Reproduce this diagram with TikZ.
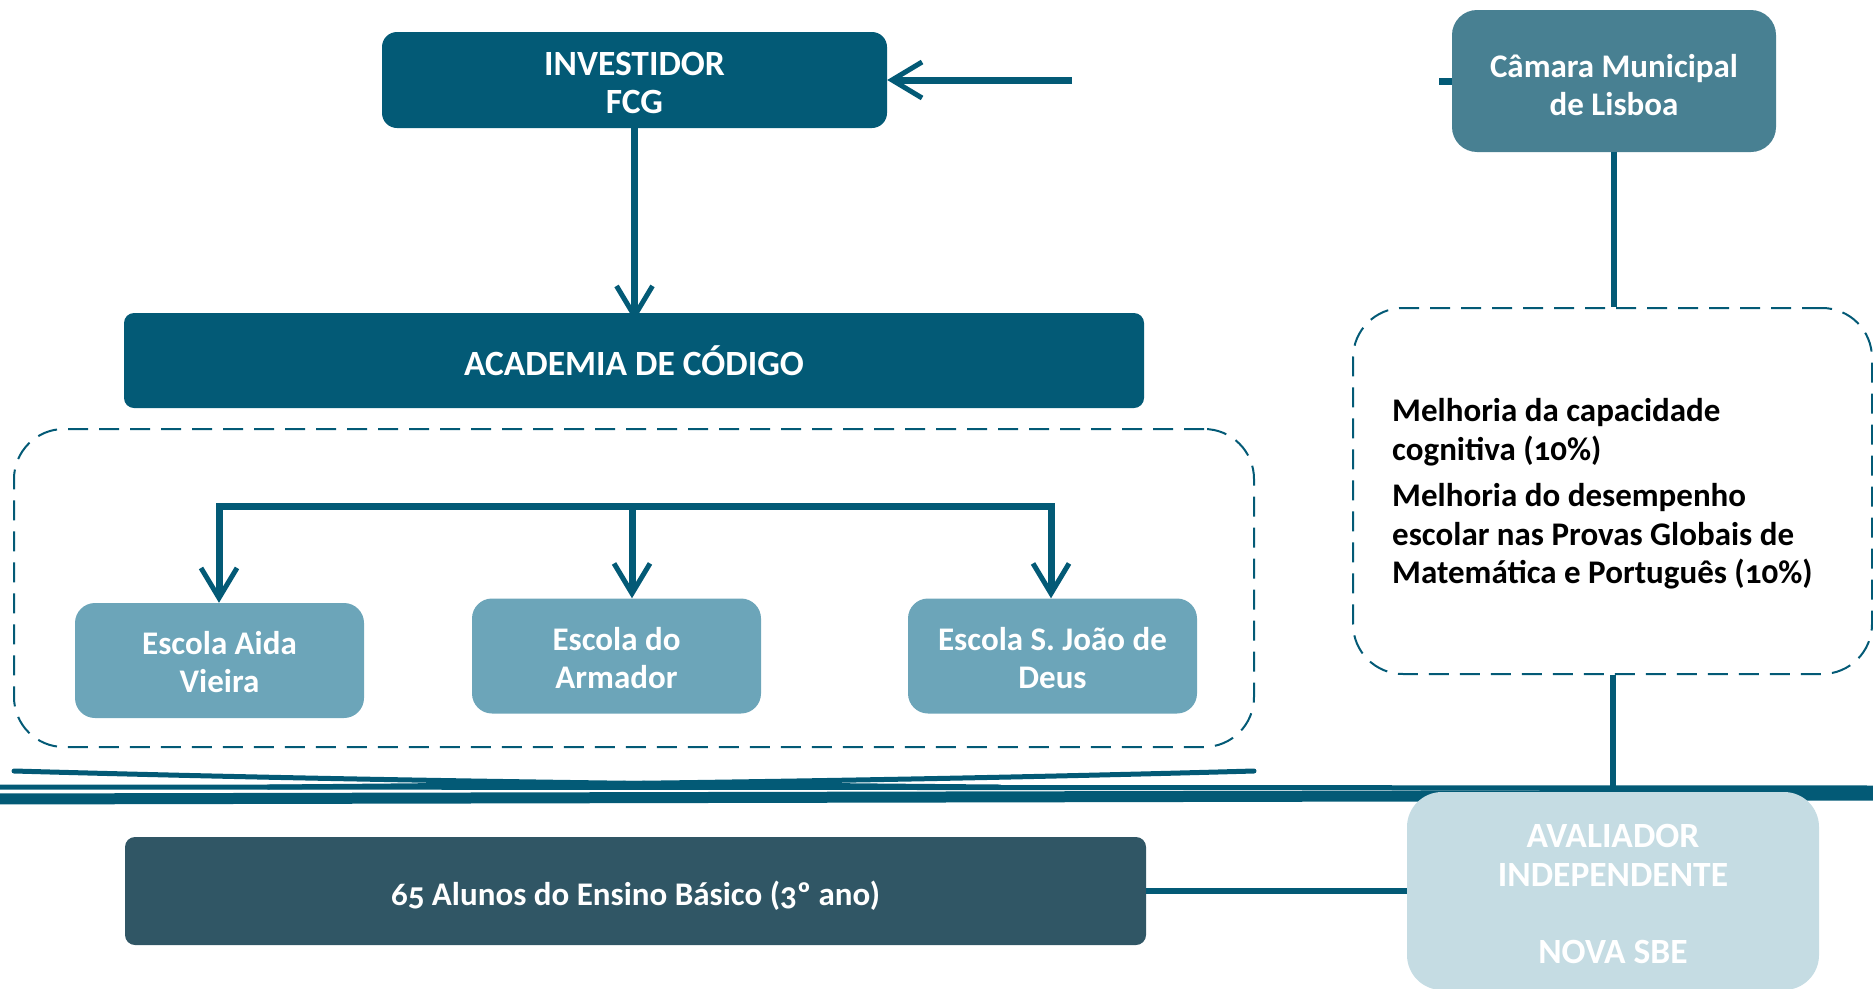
\documentclass[tikz,border=0pt]{standalone}
\usepackage{fontspec}
\setmainfont{Carlito}[Numbers=OldStyle]
\usetikzlibrary{arrows.meta}
\definecolor{dteal}{RGB}{3,90,118}
\definecolor{camc}{RGB}{72,128,146}
\definecolor{escc}{RGB}{108,165,185}
\definecolor{avalc}{RGB}{197,220,227}
\definecolor{alunc}{RGB}{48,86,101}
\newcommand{\downstrut}[1]{\rule{0pt}{#1}}
\begin{document}
\begin{tikzpicture}[x=1pt,y=-1pt,
  boxbase/.style={inner sep=0pt, align=center, text=white,
    font=\fontsize{33}{38}\selectfont\bfseries},
  capsfont/.style={font=\fontsize{35.5}{38.5}\selectfont\bfseries},
  darkbox/.style={boxbase, fill=dteal},
  escbox/.style={boxbase, fill=escc, rounded corners=20pt, minimum width=289pt, minimum height=115pt},
  dbox/.style={draw=dteal, line width=2pt, dash pattern=on 20pt off 11pt, rounded corners=50pt, inner sep=0pt},
  conn/.style={draw=dteal, line width=7pt},
  arr/.style={conn, -{Straight Barb[length=30pt,width=36pt,line width=5pt]}},
  stroke/.style={draw=dteal, line cap=round}]
\useasboundingbox (0,0) rectangle (1873,988);

% brush strokes
\draw[stroke, line width=11pt] (-10,799) -- (1890,795);
\draw[stroke, line width=5pt] (-10,787) -- (1890,788);
\draw[stroke, line width=5pt] (14,771) .. controls (300,779) and (600,784) .. (1000,787);
\draw[stroke, line width=5pt] (1254,771) .. controls (968,779) and (668,784) .. (268,787);

% nodes
\node[darkbox, capsfont, rounded corners=15pt, minimum width=505pt, minimum height=96pt] (inv) at (634.5,80) {\downstrut{29pt}INVESTIDOR\\FCG};
\node[darkbox, capsfont, rounded corners=10pt, minimum width=1020pt, minimum height=95pt] (acad) at (634,360.5) {ACADEMIA DE CÓDIGO};
\node[boxbase, fill=camc, rounded corners=25pt, minimum width=324pt, minimum height=142pt] (cam) at (1614,81) {\downstrut{31pt}Câmara Municipal\\de Lisboa};

\node[dbox, minimum width=1240pt, minimum height=318pt] (grp) at (634,588) {};
\node[dbox, minimum width=519pt, minimum height=366pt] (goal) at (1612.5,491) {};

\node[escbox] (e1) at (219.5,660.5) {\downstrut{27pt}Escola Aida\\Vieira};
\node[escbox] (e2) at (616.5,656) {\downstrut{27pt}Escola do\\Armador};
\node[escbox] (e3) at (1052.5,656) {\downstrut{27pt}Escola S. João de\\Deus};

\node[boxbase, fill=alunc, rounded corners=10pt, minimum width=1021pt, minimum height=108pt] (alun) at (635.5,891) {\downstrut{34pt}65 Alunos do Ensino Básico (3º ano)};
\node[boxbase, capsfont, fill=avalc, rounded corners=35pt, minimum width=412pt, minimum height=198pt] (aval) at (1613,891) {\downstrut{29pt}AVALIADOR\\INDEPENDENTE\\[38.5pt]NOVA SBE};

\node[anchor=west, align=left, inner sep=0pt, text=black,
  font=\fontsize{33}{38.5}\selectfont\bfseries] (gtxt) at (1392,494)
  {Melhoria da capacidade\\cognitiva (10\%)\\[8pt]Melhoria do desempenho\\escolar nas Provas Globais de\\Matemática e Português (10\%)};

% connectors
\coordinate (src) at (1072,80);
\draw[arr] (src) -- (inv.east);
\draw[arr] (inv.south) -- ([yshift=-8pt]acad.north -| inv.south);

\coordinate (bl) at (219,506);
\coordinate (bm) at (632,506);
\coordinate (br) at (1051,506);
\draw[conn, line cap=rect] (bl) -- (br);
\draw[arr] (bl) -- (e1.north -| bl);
\draw[arr] (bm) -- (e2.north -| bm);
\draw[arr] (br) -- (e3.north -| br);

\coordinate (stub) at (1439,81);
\draw[conn] (stub) -- (cam.west);
\draw[draw=dteal, line width=6pt] (cam.south) -- (cam.south |- goal.north);
\draw[draw=dteal, line width=6pt] (aval.north |- goal.south) -- (aval.north);
\draw[draw=dteal, line width=6pt] (alun.east) -- (aval.west);
\end{tikzpicture}
\end{document}
